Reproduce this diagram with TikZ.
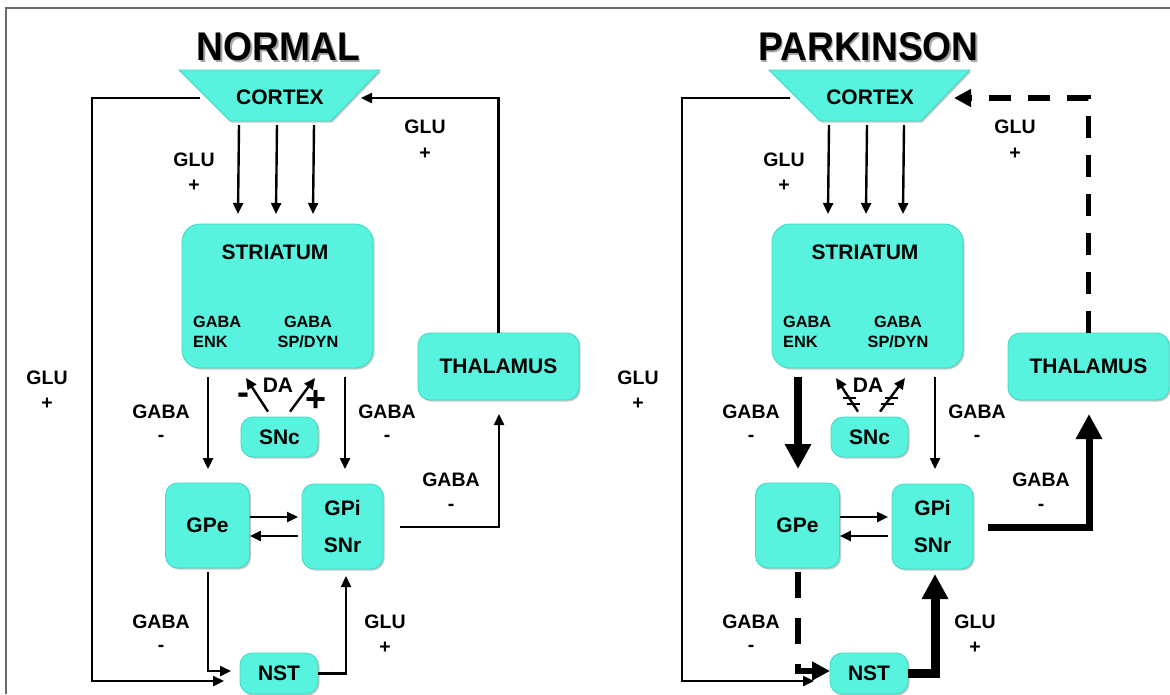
\documentclass[tikz,border=0pt]{standalone}
\usepackage{fontspec}
\setmainfont{Liberation Sans}
\newfontfamily\titlefont{Liberation Sans}[FakeStretch=0.93]
\usetikzlibrary{arrows.meta,shadows}
\definecolor{turq}{HTML}{57F3DE}
\definecolor{turqedge}{HTML}{3FD8C6}
\definecolor{framegray}{HTML}{6A6A6A}
\tikzset{
  boxshadow/.style={drop shadow={shadow xshift=1.5pt, shadow yshift=-1.5pt, opacity=0.22, fill=black}},
  box/.style={draw=turqedge, line width=0.8pt, fill=turq, rounded corners=12pt,
    inner sep=0pt, align=center, font=\fontsize{21}{37}\selectfont\bfseries, boxshadow},
  cortexshape/.style={draw=turqedge, line width=0.8pt, fill=turq, boxshadow},
  boxtext/.style={font=\fontsize{21}{25}\selectfont\bfseries, inner sep=0pt},
  ttl/.style={font=\titlefont\bfseries\fontsize{40}{48}\selectfont, inner sep=0pt},
  lab/.style={font=\fontsize{19.5}{24}\selectfont\bfseries, inner sep=0pt},
  sub/.style={font=\fontsize{16.3}{20}\selectfont\bfseries, inner sep=0pt, align=left},
  subc/.style={font=\fontsize{16.3}{20}\selectfont\bfseries, inner sep=0pt, align=center},
  sign/.style={font=\fontsize{36}{36}\selectfont\bfseries, inner sep=0pt},
  tarrow/.style={line width=2.4pt, -{Triangle[length=11pt,width=10pt]}},
  bigarrow/.style={-{Triangle[length=25pt,width=25pt]}},
  dasharrow/.style={line width=5.5pt, dash pattern=on 22pt off 17pt, -{Triangle[length=17pt,width=17pt]}},
  bar/.style={line width=2.2pt},
}
\begin{document}
\begin{tikzpicture}[x=1pt,y=-1pt]
\useasboundingbox (0,0) rectangle (1170,694);
\fill[white] (0,0) rectangle (1170,694);
% frame
\draw[framegray, line width=1.5pt] (6,694) -- (6,8) -- (1170,8);

% ================= NORMAL =================
\node[ttl, text=black!35] at (280,49) {NORMAL};
\node[ttl] (Ltitle) at (278.5,47) {NORMAL};
\filldraw[cortexshape] (179,70) -- (380,70) -- (331,121) -- (230,121) -- cycle;
\node[boxtext] (Lcortex) at (280,97) {CORTEX};
\coordinate (Lcl) at (200,98);
\coordinate (Lcr) at (361,98);

\node[box, rounded corners=18pt, minimum width=191pt, minimum height=144pt] (Lstr) at (277.5,296) {};
\node[boxtext] (Lstrt) at (275,252) {STRIATUM};
\node[sub, anchor=west] (Lenk) at (193,332) {GABA\\ENK};
\node[subc] (Ldyn) at (308,332) {GABA\\SP/DYN};
\node[box, minimum width=77pt, minimum height=40pt] (LSNc) at (279.5,437) {SNc};
\node[box, minimum width=84pt, minimum height=85pt] (LGPe) at (207.5,525.5) {GPe};
\node[box, minimum width=81pt, minimum height=85pt] (LGPi) at (342.5,526.5) {GPi\\SNr};
\node[box, minimum width=161pt, minimum height=67pt] (Lthal) at (498.5,366.5) {THALAMUS};
\node[box, minimum width=78pt, minimum height=41pt] (LNST) at (279,673.5) {NST};

% connectors
\coordinate (Lcorner) at (92,98);
\coordinate (Lnstin) at (224,681);
\draw[tarrow] (Lcl) -- (Lcorner) |- (Lnstin);
\draw[tarrow] (Lthal.north) |- (Lcr);
\draw[tarrow] (239,125) -- (238,214);
\draw[tarrow] (277,125) -- (276,214);
\draw[tarrow] (314,125) -- (313,214);
\draw[tarrow] (208,377) -- (208,469);
\draw[tarrow] (345,377) -- (345,469);
\draw[tarrow] (LSNc.north -| 268,0) ++(0,-5) -- (246,378);
\draw[tarrow] (LSNc.north -| 290,0) ++(0,-5) -- (315,378);
\draw[tarrow] (LGPe.east |- 0,517) -- (298,517);
\draw[tarrow] (298,536) -- (LGPe.east |- 0,536);
\draw[tarrow] (400,527) -| (499,414);
\draw[tarrow] (208,572) |- (231,671);
\draw[tarrow] (LNST.east) -| (346,576);

% labels
\node[lab] at (194,160) {GLU}; \node[lab] at (194,186) {+};
\node[lab] at (425,127) {GLU}; \node[lab] at (425,154) {+};
\node[lab] at (47,378) {GLU};  \node[lab] at (47,404) {+};
\node[lab] at (161,412) {GABA}; \node[lab] at (161,438) {-};
\node[lab] at (387,412) {GABA}; \node[lab] at (387,438) {-};
\node[lab] at (451,480) {GABA}; \node[lab] at (451,507) {-};
\node[lab] at (161,622) {GABA}; \node[lab] at (161,648) {-};
\node[lab] at (385,622) {GLU};  \node[lab] at (385,648) {+};
\node[boxtext] at (278,385) {DA};
\node[sign] at (243,399) {-};
\node[sign] at (316,401) {+};

% ================= PARKINSON =================
\node[ttl, text=black!35] at (870,49) {PARKINSON};
\node[ttl] (Rtitle) at (868.5,47) {PARKINSON};
\filldraw[cortexshape] (769,70) -- (970,70) -- (921,121) -- (820,121) -- cycle;
\node[boxtext] (Rcortex) at (870,97) {CORTEX};
\coordinate (Rcl) at (790,98);
\coordinate (Rcr) at (954,98);

\node[box, rounded corners=18pt, minimum width=191pt, minimum height=144pt] (Rstr) at (867.5,296) {};
\node[boxtext] (Rstrt) at (865,252) {STRIATUM};
\node[sub, anchor=west] (Renk) at (783,332) {GABA\\ENK};
\node[subc] (Rdyn) at (898,332) {GABA\\SP/DYN};
\node[box, minimum width=77pt, minimum height=40pt] (RSNc) at (869.5,437) {SNc};
\node[box, minimum width=84pt, minimum height=85pt] (RGPe) at (797.5,525.5) {GPe};
\node[box, minimum width=81pt, minimum height=85pt] (RGPi) at (932.5,526.5) {GPi\\SNr};
\node[box, minimum width=161pt, minimum height=67pt] (Rthal) at (1088.5,366.5) {THALAMUS};
\node[box, minimum width=78pt, minimum height=41pt] (RNST) at (869,673.5) {NST};

\coordinate (Rcorner) at (682,98);
\coordinate (Rnstin) at (814,681);
\draw[tarrow] (Rcl) -- (Rcorner) |- (Rnstin);
\draw[dasharrow] (Rthal.north) |- (Rcr);
\draw[tarrow] (829,125) -- (828,214);
\draw[tarrow] (867,125) -- (866,214);
\draw[tarrow] (904,125) -- (903,214);
\draw[bigarrow, line width=8pt] (798,377) -- (798,469);
\draw[tarrow] (935,377) -- (935,469);
\draw[tarrow] (RSNc.north -| 858,0) ++(0,-5) -- (836,378);
\draw[tarrow] (RSNc.north -| 880,0) ++(0,-5) -- (905,378);
\draw[bar] (843,398) -- (856,398);
\draw[bar] (847,404) -- (860,404);
\draw[bar] (885,398) -- (898,398);
\draw[bar] (881,404) -- (894,404);
\draw[tarrow] (RGPe.east |- 0,517) -- (888,517);
\draw[tarrow] (888,536) -- (RGPe.east |- 0,536);
\draw[bigarrow, line width=7pt] (988,527) -| (1089,414);
\draw[line width=6pt, dash pattern=on 26pt off 20pt, -{Triangle[length=18pt,width=18pt]}] (798,572) |- (830,671);
\draw[bigarrow, line width=9pt] (RNST.east) -| (935,574);

\node[lab] at (784,160) {GLU}; \node[lab] at (784,186) {+};
\node[lab] at (1015,127) {GLU}; \node[lab] at (1015,154) {+};
\node[lab] at (638,378) {GLU};  \node[lab] at (638,404) {+};
\node[lab] at (751,412) {GABA}; \node[lab] at (751,438) {-};
\node[lab] at (977,412) {GABA}; \node[lab] at (977,438) {-};
\node[lab] at (1041,480) {GABA}; \node[lab] at (1041,507) {-};
\node[lab] at (751,622) {GABA}; \node[lab] at (751,648) {-};
\node[lab] at (975,622) {GLU};  \node[lab] at (975,648) {+};
\node[boxtext] at (868,385) {DA};
\end{tikzpicture}
\end{document}
